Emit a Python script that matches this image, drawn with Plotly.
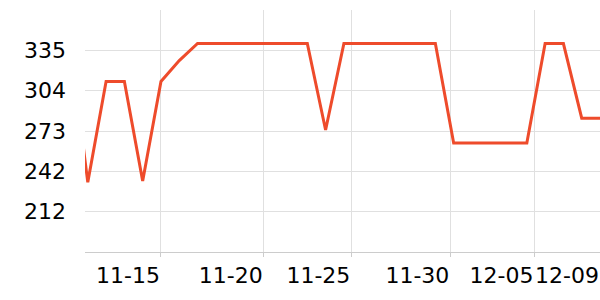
import plotly.graph_objects as go

dates = ["2023-11-10", "2023-11-11", "2023-11-12", "2023-11-13", "2023-11-14", "2023-11-15",
         "2023-11-16", "2023-11-17", "2023-11-18", "2023-11-19", "2023-11-20", "2023-11-21",
         "2023-11-22", "2023-11-23", "2023-11-24", "2023-11-25", "2023-11-26", "2023-11-27",
         "2023-11-28", "2023-11-29", "2023-11-30", "2023-12-01", "2023-12-02", "2023-12-03",
         "2023-12-04", "2023-12-05", "2023-12-06", "2023-12-07", "2023-12-08", "2023-12-09"]
values = [345, 234, 311, 311, 235, 311, 327, 340, 340, 340, 340, 340, 340, 340, 274, 340,
          340, 340, 340, 340, 340, 264, 264, 264, 264, 264, 340, 340, 283, 283]

x_tick_vals = ["2023-11-15 00:00", "2023-11-20 14:53", "2023-11-25 09:50",
               "2023-11-30 19:41", "2023-12-05 10:05", "2023-12-09 00:00"]
x_tick_text = ["11-15", "11-20", "11-25", "11-30", "12-05", "12-09"]
y_tick_vals = [211.6, 242.4, 273.2, 304.0, 334.8]
y_tick_text = ["212", "242", "273", "304", "335"]

fig = go.Figure()
fig.add_trace(go.Scatter(x=dates, y=values, mode="lines",
                         line=dict(color="#ee4b2b", width=3), hoverinfo="skip"))

font = dict(family="DejaVu Sans", size=22, color="#000000")
fig.update_layout(
    width=600, height=300,
    margin=dict(l=85, r=0, t=10, b=48),
    paper_bgcolor="white", plot_bgcolor="white",
    showlegend=False,
    font=font,
)
fig.update_xaxes(
    type="date",
    range=["2023-11-10 20:20", "2023-12-09 00:00"],
    tickvals=x_tick_vals, ticktext=x_tick_text,
    tickangle=0, automargin=False,
    ticklabelshift=-33, ticklabeloverflow="allow",
    showgrid=True, gridcolor="#e0e0e0", gridwidth=1,
    showline=True, linecolor="#cccccc", linewidth=1,
    ticks="outside", ticklen=4, tickcolor="#cccccc",
    zeroline=False, tickfont=font,
)
fig.update_yaxes(
    range=[180.8, 365.6], automargin=False,
    tickvals=y_tick_vals, ticktext=y_tick_text,
    showgrid=True, gridcolor="#e0e0e0", gridwidth=1,
    showline=False, zeroline=False,
    ticks="", ticklabelstandoff=18, tickfont=font,
)

fig.write_html("out.html")
